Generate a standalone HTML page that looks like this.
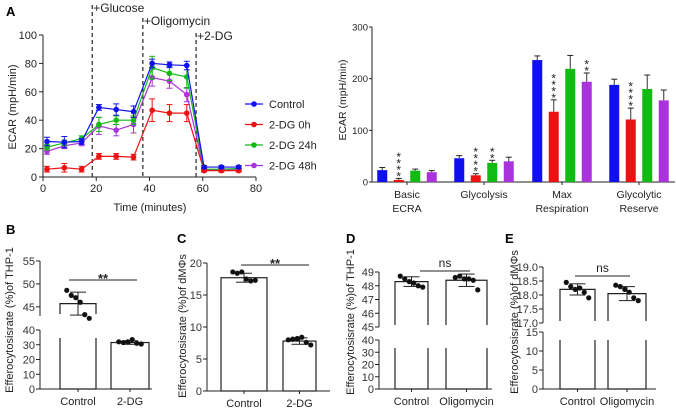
<!DOCTYPE html>
<html><head><meta charset="utf-8"><style>
html,body{margin:0;padding:0;background:#fff;}
svg{display:block;font-family:"Liberation Sans",Arial,sans-serif;}
</style></head><body>
<svg id="fig" width="676" height="408" viewBox="0 0 676 408" xmlns="http://www.w3.org/2000/svg"></svg>
<script>
// ---- Panel A line chart data ----
const timePoints=[1.5,8,14.5,21,27.5,34,41,47.5,54,60.5,67,73.5];
const lineSeriesNames=["Control","2-DG 0h","2-DG 24h","2-DG 48h"];
const lineColors=["#1010ee","#ee1111","#11bb11","#aa33dd"];
const controlVals=[25,24.5,25,49,47.5,46,80,79,78.5,7,7,7];
const dg0Vals=[5.5,6.5,5.5,14.5,14.5,14,47,45,45,4.5,4.5,4.5];
const dg24Vals=[21,24,27,37,40,40,77,73,70.5,5.5,5.5,6];
const dg48Vals=[18,22,24,36,33,37,70,67.5,58,5,5,5];
const controlErr=[3,4,2,2,4,4,3,2,3,1,1,1];
const dg0Err=[2,3,2,2,2,2,8,6,6,1,1,1];
const dg24Err=[2,2,2,5,3,3,8,5,8,1,1,1];
const dg48Err=[2,2,2,6,4,6,6,5,5,1,1,1];
const lineXTicks=[0,20,40,60,80];
const lineYTicks=[0,20,40,60,80,100];
const injections=[{t:18.5,label:"+Glucose"},{t:37.5,label:"+Oligomycin"},{t:57.5,label:"+2-DG"}];
// ---- Panel A bar chart data ----
const barCategories=[["Basic","ECRA"],["Glycolysis",""],["Max","Respiration"],["Glycolytic","Reserve"]];
const barControl=[23,46,236,188];
const bar0h=[4,13,136,121];
const bar24h=[22,37,219,180];
const bar48h=[19,40,194,158];
const barControlErr=[5,5,8,11];
const bar0hErr=[3,3,23,22];
const bar24hErr=[3,5,26,27];
const bar48hErr=[3,8,17,20];
const barStars=[["","****","",""],["","****","**",""],["","****","","**"],["","****","",""]];
const barYTicks=[0,100,200,300];
// ---- Panels B-E ----
const bGroups=["Control","2-DG"];const bMeans=[45.7,31.5];const bSD=[2.5,1.2];
const bDots=[[48.6,47.5,47,46,43.3,42.5],[32,31.5,32,33.5,31,30.5]];
const cGroups=["Control","2-DG"];const cMeans=[17.7,7.8];const cSD=[0.7,0.5];
const cDots=[[18.6,18.4,18.6,17.5,17.2,17.3],[8,8.1,8.2,8.4,7.6,7.2]];
const dGroups=["Control","Oligomycin"];const dMeans=[48.3,48.4];const dSD=[0.35,0.45];
const dDots=[[48.7,48.5,48.3,48.2,48.0,47.9],[48.6,48.7,48.5,48.5,48.4,47.7]];
const eGroups=["Control","Oligomycin"];const eMeans=[18.2,18.05];const eSD=[0.2,0.25];
const eDots=[[18.45,18.3,18.2,18.25,18.1,17.9],[18.35,18.3,18.2,18.1,17.9,17.8]];

const svg=document.getElementById('fig');
const NS="http://www.w3.org/2000/svg";
function mk(tag,attrs,parent,text){const e=document.createElementNS(NS,tag);for(const k in attrs)e.setAttribute(k,attrs[k]);if(text!==undefined)e.textContent=text;(parent||svg).appendChild(e);return e;}
function line(x1,y1,x2,y2,p,st){return mk('line',Object.assign({x1,y1,x2,y2,stroke:'#222','stroke-width':1},st||{}),p);}

// ===== Panel A line =====
{
const g=mk('g',{});


const L=mk('text',{x:6,y:16,'font-size':13,'font-weight':'bold'},g,'A');

const x0=43,x1=256,y0=177,y1=35;
const sx=v=>x0+(v-0)/(80)*(x1-x0), sy=v=>y0-(v/100)*(y0-y1);
line(x0,y0,x1,y0,g);line(x0,y1,x0,y0,g);
lineXTicks.forEach(t=>{line(sx(t),y0,sx(t),y0+4,g);const tx=mk('text',{x:sx(t),y:y0+15,'font-size':11,'text-anchor':'middle',fill:'#222'},g,t);});
lineYTicks.forEach(t=>{line(x0-4,sy(t),x0,sy(t),g);const tx=mk('text',{x:x0-6,y:sy(t)+4,'font-size':11,'text-anchor':'end',fill:'#222'},g,t);});
const xt=mk('text',{x:150,y:211,'font-size':11,'text-anchor':'middle',fill:'#222'},g,'Time (minutes)');

const yt=mk('text',{x:0,y:0,'font-size':11,'text-anchor':'middle',fill:'#222',transform:'translate(16,107) rotate(-90)'},g,'ECAR (mpH/min)');

const ly=[5,18,33];
injections.forEach((inj,i)=>{const x=sx(inj.t);line(x,ly[i],x,y0,g,{'stroke-dasharray':'4,3','stroke-width':1.3,stroke:'#333'});
const t=mk('text',{x:x+1,y:ly[i]+7,'font-size':12,fill:'#222'},g,inj.label);});
const allV=[controlVals,dg0Vals,dg24Vals,dg48Vals],allE=[controlErr,dg0Err,dg24Err,dg48Err];
[3,2,1,0].forEach(s=>{
 const sg=mk('g',{},g);
 
 
 const c=lineColors[s];
 mk('polyline',{points:timePoints.map((t,i)=>sx(t)+','+sy(allV[s][i])).join(' '),fill:'none',stroke:c,'stroke-width':1.2},sg);
 timePoints.forEach((t,i)=>{const x=sx(t),v=allV[s][i],e=allE[s][i];
  line(x,sy(v-e),x,sy(v+e),sg,{stroke:c});line(x-3,sy(v+e),x+3,sy(v+e),sg,{stroke:c});line(x-3,sy(v-e),x+3,sy(v-e),sg,{stroke:c});
  const p=mk('circle',{cx:x,cy:sy(v),r:2.8,fill:c},sg);});
});
lineSeriesNames.forEach((n,i)=>{const y=104+i*20.5;const lg=mk('g',{},g);
 
 line(245,y,263,y,lg,{stroke:lineColors[i],'stroke-width':1.3});mk('circle',{cx:254,cy:y,r:2.8,fill:lineColors[i]},lg);
 mk('text',{x:269,y:y+4,'font-size':11,fill:'#222'},lg,n);});
}

// ===== Panel A bar =====
{
const g=mk('g',{});


const x0=372,x1=675,y0=182,y1=27;
const sy=v=>y0-v/300*(y0-y1);
line(x0,y1,x0,y0,g);line(x0,y0,x1,y0,g);
barYTicks.forEach(t=>{line(x0-3,sy(t),x0,sy(t),g);const tx=mk('text',{x:x0-4,y:sy(t)+3.5,'font-size':9.5,'text-anchor':'end',fill:'#222'},g,t);});
const yt=mk('text',{x:0,y:0,'font-size':10.5,'text-anchor':'middle',fill:'#222',transform:'translate(346,100) rotate(-90)'},g,'ECAR (mpH/min)');

const centers=[407,484,562,639];
const vals=[barControl,bar0h,bar24h,bar48h],errs=[barControlErr,bar0hErr,bar24hErr,bar48hErr];
barCategories.forEach((cat,ci)=>{
 line(centers[ci],y0,centers[ci],y0+3,g);
 const t1=mk('text',{x:centers[ci],y:198,'font-size':10.5,'text-anchor':'middle',fill:'#222'},g,cat[0]);
 if(cat[1]){const t2=mk('text',{x:centers[ci],y:212,'font-size':10.5,'text-anchor':'middle',fill:'#222'},g,cat[1]);}
 for(let s=0;s<4;s++){const bx=centers[ci]+(s-1.5)*16.5;const v=vals[s][ci],e=errs[s][ci];
  const r=mk('rect',{x:bx-5,y:sy(v),width:10,height:y0-sy(v),fill:lineColors[s]},g);
  
  line(bx,sy(v),bx,sy(v+e),g,{stroke:'#333'});line(bx-3,sy(v+e),bx+3,sy(v+e),g);
  const st=barStars[ci][s];
  for(let k=0;k<st.length;k++){const sx=mk('text',{x:bx,y:sy(v+e)+2-k*6.5,'font-size':12,'text-anchor':'middle',fill:'#222'},g,'*');}
 }
});
}

// ===== Dot/bar panels =====
function dotPanel(o){
 const g=mk('g',{});
 
 
 const lb=mk('text',{x:o.lx,y:o.ly,'font-size':13,'font-weight':'bold'},g,o.letter);
 
 const sy=v=>{ if(o.brk&&v<=o.lowMax) return o.y0-(v-0)/(o.lowMax)*(o.y0-o.lowTopY);
   return o.upBotY-(v-o.upMin)/(o.upMax-o.upMin)*(o.upBotY-o.upTopY);};
 const ax=o.ax;
 if(o.brk){line(ax,o.lowTopY,ax,o.y0,g);line(ax,o.upTopY,ax,o.upBotY,g);}
 else line(ax,o.upTopY,ax,o.y0,g);
 line(ax,o.y0,o.xEnd,o.y0,g);
 o.ticks.forEach(t=>{const y=sy(t);line(ax-4,y,ax,y,g);const tx=mk('text',{x:ax-5,y:y+4,'font-size':11,'text-anchor':'end',fill:'#333'},g,o.fmt?t.toFixed(1):t);});
 const yt=mk('text',{x:0,y:0,'font-size':11,'text-anchor':'middle',fill:'#222',transform:`translate(${o.tx},${o.ty}) rotate(-90)`},g,o.title);
 
 o.groups.forEach((gn,i)=>{const [bx0,bx1]=o.bars[i];const cx=(bx0+bx1)/2;const m=o.means[i];
  const top=sy(m);
  if(o.brk&&m>o.lowMax){
   const r=mk('path',{d:`M${bx0},${o.y0}V${o.lowTopY+8}M${bx1},${o.y0}V${o.lowTopY+8}M${bx0},${o.upBotY-2}V${top}H${bx1}V${o.upBotY-2}M${bx0},${o.y0}H${bx1}`,fill:'none',stroke:'#222','stroke-width':1.2},g);
   
  } else {const r=mk('rect',{x:bx0,y:top,width:bx1-bx0,height:o.y0-top,fill:'none',stroke:'#222','stroke-width':1.2},g);}
  const sd=o.sd[i];line(cx,sy(m-sd),cx,sy(m+sd),g);line(cx-8,sy(m+sd),cx+8,sy(m+sd),g);line(cx-8,sy(m-sd),cx+8,sy(m-sd),g);
  o.dots[i].forEach((d,k)=>{const dx=cx+(k-2.5)*4.5;const c=mk('circle',{cx:dx,cy:sy(d),r:2.6,fill:'#111'},g);});
  line(cx,o.y0,cx,o.y0+3,g);
  const xl=mk('text',{x:cx,y:o.y0+16,'font-size':11,'text-anchor':'middle',fill:'#222'},g,gn);
 });
 line(o.sig[0],o.sig[2],o.sig[1],o.sig[2],g);
 const st=mk('text',{x:(o.sig[0]+o.sig[1])/2,y:o.sig[2]-(o.sigText==='ns'?4:-3),'font-size':o.sigText==='ns'?12:13,'text-anchor':'middle',fill:'#222','font-weight':o.sigText==='ns'?'normal':'bold'},g,o.sigText);
 
}
dotPanel({name:'panel-b-thp1-2dg',letter:'B',lx:6,ly:234,ax:40,xEnd:152,y0:389,brk:true,lowMax:40,lowTopY:330,upMin:43,upMax:55,upBotY:316,upTopY:261,
 ticks:[0,10,20,30,40,45,50,55],title:'Efferocytosisrate (%)of THP-1',tx:13,ty:320,groups:bGroups,means:bMeans,sd:bSD,dots:bDots,
 bars:[[60,96],[111,149]],sig:[69,137,280],sigText:'**'});
dotPanel({name:'panel-c-dmphi-2dg',letter:'C',lx:177,ly:243,ax:207,xEnd:330,y0:391,brk:false,upMin:0,upMax:20,upBotY:391,upTopY:263,
 ticks:[0,5,10,15,20],title:'Efferocytosisrate (%)of dMΦs',tx:186,ty:326,groups:cGroups,means:cMeans,sd:cSD,dots:cDots,
 bars:[[221,267],[283,316]],sig:[241,309,265],sigText:'**'});
dotPanel({name:'panel-d-thp1-oligomycin',letter:'D',lx:346,ly:243,ax:379,xEnd:492,y0:389,brk:true,lowMax:40,lowTopY:340,upMin:45,upMax:49,upBotY:327,upTopY:272,
 ticks:[0,10,20,30,40,45,46,47,48,49],title:'Efferocytosisrate (%)of THP-1',tx:354,ty:322,groups:dGroups,means:dMeans,sd:dSD,dots:dDots,
 bars:[[395,428],[446,487]],sig:[420,470,271],sigText:'ns'});
dotPanel({name:'panel-e-dmphi-oligomycin',letter:'E',lx:505,ly:243,ax:543,xEnd:656,y0:389,brk:true,lowMax:15,lowTopY:332,upMin:17,upMax:19,upBotY:323,upTopY:267,fmt:false,
 ticks:[0,5,10,15],title:'Efferocytosisrate (%)of dMΦs',tx:518,ty:322,groups:eGroups,means:eMeans,sd:eSD,dots:eDots,
 bars:[[560,595],[608,646]],sig:[575,630,276],sigText:'ns'});
{const ups=[17.0,17.5,18.0,18.5,19.0];const g=svg.lastChild;
 ups.forEach(t=>{const y=323-(t-17)/2*(323-267);line(539,y,543,y,g);const tx=mk('text',{x:538,y:y+4,'font-size':11,'text-anchor':'end',fill:'#333'},g,t.toFixed(1));});}
</script>
</body></html>
